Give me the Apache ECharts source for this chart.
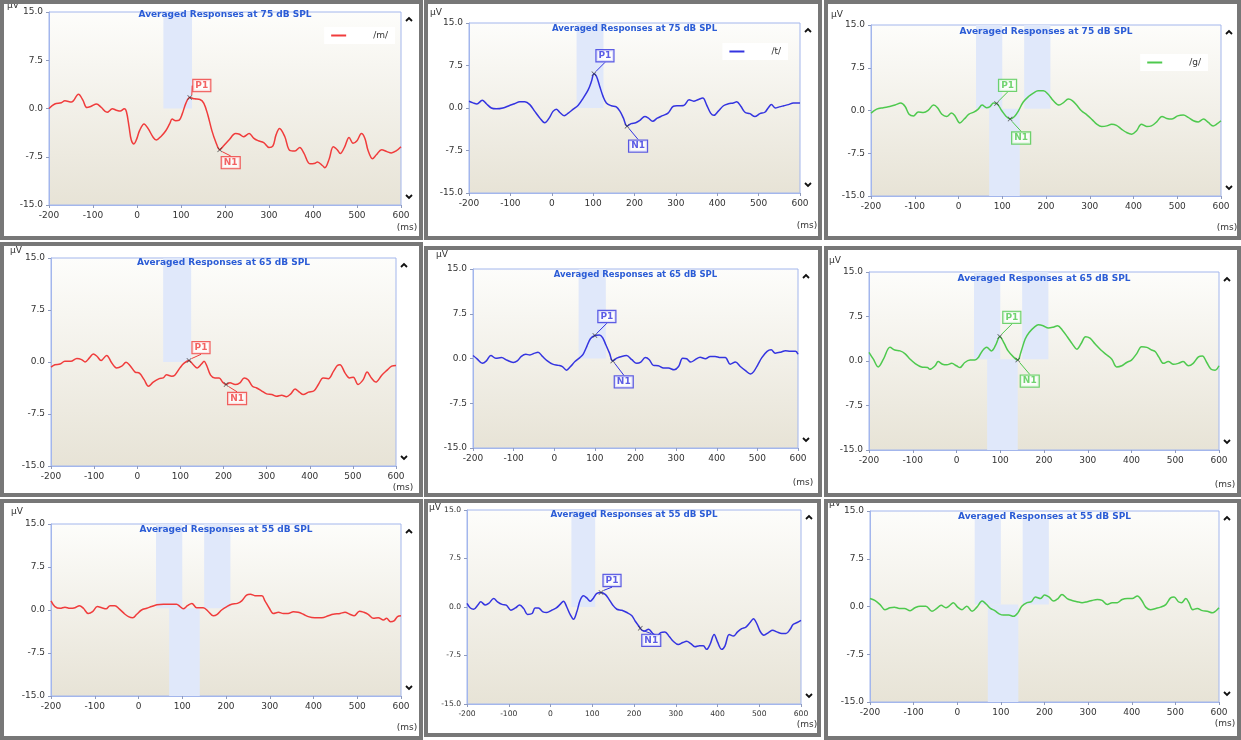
<!DOCTYPE html>
<html>
<head>
<meta charset="utf-8">
<script src="https://cdn.jsdelivr.net/npm/echarts@6/dist/echarts.min.js"></script>
<style>
  html, body { margin: 0; padding: 0; background: #ffffff; }
  #chart { width: 1241px; height: 740px; }
</style>
</head>
<body>
<div id="chart"></div>
<script>
// ---- axis ticks ----
const timeTicks = [-200, -100, 0, 100, 200, 300, 400, 500, 600];   // ms
const voltTicks = [-15, -7.5, 0, 7.5, 15];                          // µV
const levels = ['75', '65', '55'];                                  // dB SPL, one per row
const stimuli = ['/m/', '/t/', '/g/'];                              // one per column

// ---- averaged waveforms [ms, µV] ----
const mTrace75 = [[-200,0.0],[-187,0.7],[-172,0.9],[-164,1.2],[-149,1.0],[-133,2.2],[-123,1.3],[-114,0.15],[-104,0.35],[-92,0.7],[-81,0.15],[-68,-0.6],[-56,-0.05],[-47,-0.26],[-38,-0.4],[-29,-0.05],[-24,-0.5],[-18,-2.85],[-13,-4.9],[-7,-5.5],[-1,-4.8],[6,-3.4],[16,-2.4],[25,-3.1],[37,-4.5],[44,-4.9],[55,-4.3],[65,-3.5],[74,-2.4],[80,-1.65],[88,-1.9],[96,-1.8],[103,-0.8],[111,0.8],[120,1.7],[131,1.5],[143,1.4],[152,0.8],[161,-1.0],[170,-3.4],[179,-5.2],[188,-6.4],[197,-5.8],[209,-4.9],[224,-3.9],[233,-4.0],[242,-4.4],[255,-3.9],[265,-4.6],[275,-5.0],[288,-5.3],[300,-6.05],[309,-5.8],[316,-4.1],[324,-3.1],[336,-4.4],[347,-6.5],[359,-6.6],[370,-6.05],[379,-6.9],[393,-8.6],[405,-8.5],[410,-8.3],[422,-8.9],[427,-9.2],[437,-7.8],[446,-5.95],[455,-6.4],[462,-7.0],[472,-5.95],[482,-4.5],[491,-5.4],[500,-5.0],[510,-3.9],[518,-4.65],[525,-6.5],[535,-7.8],[544,-7.2],[556,-6.4],[568,-6.7],[578,-6.9],[589,-6.6],[600,-5.95]];
const tTrace75 = [[-200,1.2],[-190,0.9],[-181,0.7],[-168,1.35],[-158,0.75],[-146,0.0],[-134,-0.15],[-118,0.0],[-102,0.45],[-90,0.75],[-77,1.1],[-65,1.1],[-53,0.6],[-41,-0.6],[-29,-1.75],[-17,-2.6],[-6,-1.75],[3,-0.6],[11,-0.2],[19,-0.75],[30,-1.35],[40,-0.9],[52,-0.2],[64,0.5],[76,1.75],[88,3.2],[96,4.7],[102,6.05],[108,5.6],[116,3.8],[124,2.05],[132,0.9],[144,0.4],[156,0.2],[165,-0.6],[173,-1.75],[182,-3.2],[192,-2.75],[203,-2.6],[213,-2.2],[225,-1.5],[233,-1.75],[244,-2.35],[255,-1.8],[268,-1.35],[281,-0.9],[294,0.3],[306,0.4],[319,0.45],[332,1.45],[343,1.2],[353,1.45],[365,1.75],[374,0.6],[384,-0.9],[392,-1.3],[402,-0.6],[415,0.4],[427,0.75],[439,0.9],[447,1.1],[457,0.3],[467,-0.75],[479,-1.0],[491,-1.5],[503,-1.0],[515,-0.75],[523,0.0],[531,0.6],[540,0.0],[550,0.2],[561,0.4],[572,0.6],[584,0.9],[600,0.9]];
const gTrace75 = [[-200,-0.45],[-187,0.25],[-172,0.5],[-157,0.7],[-145,0.95],[-132,1.3],[-122,0.7],[-113,-0.65],[-103,-0.95],[-92,-0.25],[-80,-0.35],[-69,0.05],[-57,0.95],[-48,0.5],[-38,-0.65],[-27,-1.05],[-16,-0.45],[-8,-0.95],[3,-2.2],[13,-1.5],[24,-0.65],[36,-0.25],[45,0.25],[54,0.95],[64,0.5],[72,0.7],[80,1.3],[87,1.25],[99,-0.05],[109,-1.05],[118,-1.5],[128,-1.05],[137,-0.05],[148,1.5],[160,2.45],[171,3.05],[182,3.45],[194,3.45],[205,2.85],[217,1.7],[230,0.95],[240,1.4],[251,2.0],[260,1.75],[270,0.95],[281,-0.05],[294,-0.8],[306,-1.65],[316,-2.4],[327,-2.8],[339,-2.7],[350,-2.4],[361,-2.6],[373,-3.3],[384,-3.85],[396,-4.15],[407,-3.55],[418,-2.4],[430,-2.8],[441,-2.7],[453,-2.0],[465,-1.05],[476,-1.4],[488,-1.5],[501,-0.95],[514,-0.8],[525,-1.2],[537,-1.8],[548,-2.0],[560,-1.5],[571,-2.1],[582,-2.7],[590,-2.4],[600,-1.8]];
const mTrace65 = [[-200,-0.75],[-191,-0.4],[-179,-0.3],[-168,0.1],[-154,0.1],[-140,0.5],[-129,0.35],[-121,0.0],[-111,0.6],[-102,1.15],[-93,0.8],[-84,0.2],[-71,0.95],[-59,-0.15],[-48,-0.85],[-36,-0.6],[-26,-0.05],[-17,-0.5],[-5,-1.45],[5,-1.6],[16,-2.55],[26,-3.5],[37,-2.9],[51,-2.4],[60,-2.3],[68,-1.85],[80,-2.05],[87,-1.9],[99,-0.85],[108,-0.2],[120,0.2],[130,-0.4],[139,-0.85],[149,-0.3],[155,0.1],[161,-0.5],[170,-1.9],[180,-2.3],[190,-2.3],[198,-2.9],[206,-3.25],[215,-3.0],[227,-3.25],[238,-3.0],[248,-2.3],[257,-2.55],[267,-3.5],[277,-3.75],[288,-4.15],[300,-4.6],[312,-4.7],[323,-4.95],[335,-4.8],[346,-5.0],[356,-4.6],[366,-3.9],[376,-4.35],[385,-4.7],[397,-4.35],[410,-4.15],[420,-3.25],[431,-2.3],[443,-2.4],[455,-1.35],[464,-0.5],[470,-0.4],[482,-1.6],[492,-2.3],[501,-2.2],[512,-3.25],[524,-2.55],[533,-1.45],[543,-2.3],[553,-2.9],[567,-1.9],[578,-1.25],[590,-0.6],[600,-0.5]];
const tTrace65 = [[-200,0.5],[-190,-0.05],[-177,-0.8],[-167,-0.4],[-156,0.5],[-144,0.05],[-130,0.15],[-116,-0.3],[-101,-0.65],[-91,-0.4],[-81,0.35],[-70,0.7],[-60,0.6],[-48,0.9],[-40,1.05],[-29,0.35],[-17,-0.4],[-4,-0.95],[10,-1.15],[20,-1.35],[30,-1.95],[40,-1.35],[51,-0.5],[63,0.15],[71,0.7],[80,2.0],[89,3.3],[100,3.85],[111,3.95],[119,3.5],[127,2.3],[136,0.9],[144,-0.4],[154,0.05],[166,0.35],[178,0.5],[191,-0.2],[203,-0.8],[213,-0.6],[224,0.15],[234,-0.2],[244,-1.15],[256,-1.2],[269,-1.6],[281,-1.6],[295,-1.9],[306,-1.35],[316,0.05],[326,-0.05],[336,-0.6],[347,-0.2],[359,0.2],[372,-0.05],[384,0.35],[396,0.35],[409,0.15],[421,0.15],[433,-0.95],[446,-0.6],[458,-1.35],[470,-2.0],[483,-2.6],[491,-2.2],[501,-1.05],[511,0.15],[524,1.2],[534,1.45],[544,0.9],[557,1.05],[569,1.3],[581,1.2],[594,1.2],[600,0.7]];
const gTrace65 = [[-200,1.45],[-190,0.3],[-179,-1.0],[-167,0.3],[-152,2.3],[-141,1.85],[-129,1.7],[-118,1.25],[-106,0.3],[-95,-0.4],[-80,-1.0],[-66,-1.1],[-61,-1.4],[-49,-0.8],[-42,-0.1],[-32,-0.55],[-22,-0.65],[-11,-0.4],[0,-0.8],[8,-1.1],[19,-0.25],[31,0.15],[42,0.15],[50,0.6],[59,1.7],[69,2.3],[80,1.7],[90,2.75],[99,4.15],[109,2.95],[118,1.7],[130,0.7],[140,0.15],[147,1.45],[157,3.7],[166,4.8],[178,5.7],[187,6.1],[198,5.95],[210,5.55],[221,5.7],[231,5.95],[242,5.2],[254,4.0],[265,2.85],[275,2.0],[285,2.95],[295,4.1],[305,3.85],[317,2.85],[330,1.85],[343,1.05],[355,0.3],[366,-1.0],[378,-0.8],[389,-0.25],[400,0.15],[412,1.25],[423,2.4],[435,2.3],[446,1.85],[454,1.6],[463,0.6],[473,-0.4],[484,-0.1],[496,-0.55],[507,-0.4],[518,-0.1],[530,-0.8],[541,-0.4],[553,0.7],[562,0.85],[572,-0.25],[582,-1.4],[591,-1.55],[600,-0.8]];
const mTrace55 = [[-200,1.6],[-191,0.6],[-179,0.3],[-168,0.5],[-157,0.3],[-145,0.4],[-135,0.75],[-126,0.3],[-115,-0.6],[-105,-0.3],[-94,0.6],[-84,0.4],[-74,0.2],[-65,0.75],[-54,0.75],[-44,0.2],[-33,-0.6],[-23,-1.15],[-13,-1.35],[-4,-0.75],[7,0.0],[19,0.3],[30,0.6],[42,0.9],[57,1.0],[72,1.0],[87,1.0],[95,0.6],[102,0.2],[112,0.75],[122,1.15],[133,0.4],[148,0.4],[160,-0.3],[171,-1.0],[180,-0.75],[190,0.0],[202,0.6],[213,1.0],[226,1.15],[236,1.6],[247,2.6],[256,2.75],[266,2.5],[282,2.5],[289,1.6],[299,0.3],[308,-0.6],[320,-0.4],[331,-0.6],[342,-0.6],[354,-0.3],[365,-0.4],[377,-0.75],[388,-1.15],[403,-1.35],[419,-1.35],[434,-1.0],[445,-0.75],[461,-0.6],[472,-0.4],[483,-0.75],[493,-1.0],[505,-0.2],[515,-0.4],[525,-0.75],[537,-1.45],[548,-1.35],[560,-1.75],[567,-1.45],[576,-2.05],[584,-1.9],[592,-1.15],[600,-1.0]];
const tTrace55 = [[-200,0.55],[-192,-0.15],[-184,-0.35],[-174,0.3],[-167,0.8],[-156,0.3],[-148,0.55],[-136,1.3],[-127,0.8],[-116,0.4],[-106,0.3],[-95,-0.5],[-84,-0.15],[-74,0.3],[-64,-0.25],[-55,-1.15],[-44,-1.0],[-37,-0.15],[-29,-0.15],[-18,-0.75],[-9,-0.85],[3,-0.5],[14,-0.15],[23,0.4],[31,0.9],[39,0.0],[47,-1.15],[55,-1.9],[63,-0.75],[71,1.05],[79,1.75],[87,1.4],[95,0.9],[103,1.4],[111,2.1],[121,2.25],[131,1.95],[139,1.3],[149,0.3],[159,-0.35],[171,-0.5],[183,-0.85],[195,-1.35],[203,-2.2],[211,-2.9],[215,-3.3],[219,-3.6],[224,-3.75],[235,-3.45],[245,-4.1],[255,-4.5],[264,-3.95],[274,-3.85],[285,-4.6],[294,-5.3],[306,-5.8],[317,-5.5],[326,-5.3],[336,-5.65],[346,-6.15],[357,-6.0],[366,-6.0],[374,-6.55],[382,-5.8],[392,-4.25],[400,-5.4],[410,-6.55],[418,-6.0],[428,-4.25],[438,-4.5],[448,-3.85],[458,-3.35],[468,-3.1],[478,-2.4],[486,-1.8],[494,-2.55],[502,-3.75],[511,-4.35],[522,-3.95],[532,-3.6],[542,-3.85],[554,-4.1],[564,-4.1],[574,-3.45],[581,-2.7],[591,-2.4],[600,-2.05]];
const gTrace55 = [[-200,1.25],[-189,0.95],[-177,0.3],[-166,-0.5],[-154,-0.2],[-144,-0.1],[-133,-0.3],[-121,-0.3],[-108,-0.65],[-97,-0.2],[-85,0.05],[-72,0.05],[-58,-0.75],[-47,-0.3],[-37,0.2],[-26,-0.2],[-19,0.05],[-9,0.6],[1,-0.1],[11,-0.5],[22,0.05],[34,-0.75],[45,-0.1],[57,0.85],[66,0.4],[76,-0.3],[86,-0.65],[96,-1.15],[106,-1.35],[118,-1.35],[129,-1.55],[139,-1.0],[148,0.05],[160,0.6],[170,0.75],[179,1.5],[191,1.25],[200,1.8],[210,1.5],[221,0.85],[231,1.25],[240,1.9],[252,1.25],[263,0.95],[275,0.75],[286,0.6],[298,0.75],[309,0.95],[321,1.1],[332,0.95],[344,0.3],[355,0.6],[367,0.6],[378,1.1],[390,1.25],[401,1.25],[413,1.65],[423,0.95],[432,-0.1],[443,-0.5],[455,-0.3],[466,-0.1],[478,0.3],[489,1.35],[497,1.5],[507,0.75],[514,0.6],[524,1.25],[531,0.6],[540,-0.5],[550,-0.3],[562,-0.65],[573,-0.75],[585,-1.0],[592,-0.75],[600,-0.2]];

// ---- picked peaks [label, ms, µV] ----
const mPeaks75 = [['P1', 120, 1.7], ['N1', 188, -6.4]];
const tPeaks75 = [['P1', 102, 6.05], ['N1', 182, -3.2]];
const gPeaks75 = [['P1', 87, 1.25], ['N1', 118, -1.5]];
const mPeaks65 = [['P1', 120, 0.2], ['N1', 206, -3.25]];
const tPeaks65 = [['P1', 100, 3.85], ['N1', 144, -0.4]];
const gPeaks65 = [['P1', 99, 4.15], ['N1', 140, 0.15]];
const mPeaks55 = [];
const tPeaks55 = [['P1', 121, 2.25], ['N1', 215, -3.3]];
const gPeaks55 = [];

// ---- latency search windows [from ms, to ms, low µV, high µV] ----
const mWindows75 = [[60, 125, 0, 15]];
const tWindows75 = [[60, 125, 0, 15]];
const gWindows75 = [[40, 100, 0.3, 15], [150, 210, 0.3, 15], [70, 140, -15, 0.3]];
const mWindows65 = [[60, 125, 0, 15]];
const tWindows65 = [[60, 127, 0, 15]];
const gWindows65 = [[40, 100, 0.3, 15], [150, 210, 0.3, 15], [70, 140, -15, 0.3]];
const mWindows55 = [[40, 100, 0.3, 15], [150, 210, 0.3, 15], [70, 140, -15, 0.3]];
const tWindows55 = [[50, 107, 0, 15]];
const gWindows55 = [[40, 100, 0.3, 13.8], [150, 210, 0.3, 13.8], [70, 140, -15, 0.3]];

const traces  = [mTrace75, tTrace75, gTrace75, mTrace65, tTrace65, gTrace65, mTrace55, tTrace55, gTrace55];
const peaks   = [mPeaks75, tPeaks75, gPeaks75, mPeaks65, tPeaks65, gPeaks65, mPeaks55, tPeaks55, gPeaks55];
const windows = [mWindows75, tWindows75, gWindows75, mWindows65, tWindows65, gWindows65, mWindows55, tWindows55, gWindows55];

// ---- page layout (pixels) ----
const gridBoxes  = [[49,12,401,205],[469,23,800,193],[871,25,1221,196],
                    [51,258,396,466],[473,269,798,448],[869,272,1219,450],
                    [51,524,401,696],[467,510,801,704],[870,511,1219,702]];
const frameBoxes = [[0,0,423,240],[424,0,822,240],[824,0,1241,240],
                    [0,242,423,497],[424,246,822,497],[824,246,1241,497],
                    [0,499,423,740],[424,499,821,737],[824,499,1241,740]];
const unitSpots  = [[13,6],[436,13],[837,15],[16,251],[442,255],[835,261],[17,512],[435,508],[835,504]];
const msSpots    = [[407,228],[807,226],[1227,228],[403,488],[803,483],[1225,485],[407,728],[807,725],[1225,724]];
const titleMidY  = [16,30,33,264,276,280,531,516,518];
const titleSizes = [9,8.6,9,9,8.5,9,9,8.7,9];
const tickSizes  = [9,9,9,9,9,9,9,7.6,9];
const peakShift  = [[[12,-12],[11,13]], [[11,-18],[11,20]], [[11,-18],[11,19]],
                    [[12,-13],[11,14]], [[12,-19],[11,21]], [[12,-19],[12,21]],
                    [], [[11,-12],[11,12]], []];
const legendSpots = [{right: 846, top: 27}, {right: 453, top: 43}, {right: 33, top: 54}];

const lineColors = ['#f03c3c', '#3434e0', '#4ec94e'];
const FONT = 'DejaVu Sans, Verdana, sans-serif';
const CROSS = 'path://M0,1L1,0L5,4L9,0L10,1L6,5L10,9L9,10L5,6L1,10L0,9L4,5Z';

const grids = [], xAxes = [], yAxes = [], titles = [], series = [], graphics = [], legends = [];

traces.forEach((trace, i) => {
  const col = i % 3, row = Math.floor(i / 3);
  const [l, t, r, b] = gridBoxes[i];
  const color = lineColors[col];

  grids.push({
    left: l, top: t, width: r - l, height: b - t,
    show: true, borderColor: '#a3b6ec', borderWidth: 1,
    backgroundColor: new echarts.graphic.LinearGradient(0, 0, 0, 1, [
      { offset: 0, color: '#fdfdfb' }, { offset: 1, color: '#e7e3d6' }
    ])
  });

  xAxes.push({
    type: 'value', gridIndex: i,
    min: timeTicks[0], max: timeTicks[timeTicks.length - 1], interval: 100,
    axisLine: { show: true, onZero: false, lineStyle: { color: '#a3b6ec' } },
    axisTick: { show: true, length: 3, lineStyle: { color: '#8f9bbd' } },
    axisLabel: { fontSize: tickSizes[i], color: '#333', margin: 6, fontFamily: FONT },
    splitLine: { show: false }
  });

  yAxes.push({
    type: 'value', gridIndex: i,
    min: voltTicks[0], max: voltTicks[voltTicks.length - 1], interval: 7.5,
    axisLine: { show: true, onZero: false, lineStyle: { color: '#a3b6ec' } },
    axisTick: { show: true, length: 3, lineStyle: { color: '#8f9bbd' } },
    axisLabel: { fontSize: tickSizes[i], color: '#333', margin: 6, fontFamily: FONT,
                 formatter: v => v.toFixed(1) },
    splitLine: { show: false }
  });

  titles.push({
    text: 'Averaged Responses at ' + levels[row] + ' dB SPL',
    left: (l + r) / 2, textAlign: 'center',
    top: titleMidY[i] - 6, padding: 0,
    textStyle: { fontSize: titleSizes[i], fontWeight: 'bold', color: '#2b5cd6', fontFamily: FONT }
  });

  const seriesName = row === 0 ? stimuli[col] : stimuli[col] + ' ' + levels[row];
  series.push({
    type: 'line', name: seriesName, xAxisIndex: i, yAxisIndex: i,
    data: trace, smooth: 0.35, showSymbol: false, symbol: 'none',
    lineStyle: { color: color, width: 1.5 }, itemStyle: { color: color },
    z: 3, silent: true,
    markArea: {
      silent: true,
      itemStyle: { color: '#e0e8fa' },
      data: windows[i].map(w => [{ xAxis: w[0], yAxis: w[2] }, { xAxis: w[1], yAxis: w[3] }])
    }
  });

  if (peaks[i].length) {
    const shift = peakShift[i];
    series.push({
      type: 'scatter', name: 'peaks ' + i, xAxisIndex: i, yAxisIndex: i,
      data: peaks[i].map(p => ({ name: p[0], value: [p[1], p[2]] })),
      symbol: CROSS, symbolSize: 5, itemStyle: { color: '#333' }, z: 4, silent: true,
      label: {
        show: true, position: 'inside', formatter: '{b}',
        color: color, fontSize: 9, fontWeight: 'bold', fontFamily: FONT,
        backgroundColor: '#ffffff', borderColor: color, borderWidth: 1.2,
        padding: [1, 2, 0, 2], lineHeight: 10
      },
      labelLayout: p => ({ dx: shift[p.dataIndex][0], dy: shift[p.dataIndex][1] }),
      labelLine: { show: true, lineStyle: { color: color, width: 1 } }
    });
  }

  if (row === 0) {
    legends.push(Object.assign({
      data: [stimuli[col]], orient: 'horizontal',
      backgroundColor: '#ffffff', padding: [4, 7], itemWidth: 15, itemHeight: 2,
      icon: 'rect', selectedMode: false,
      textStyle: { fontSize: 9, color: '#333', fontFamily: FONT, padding: [0, 0, 0, 22] }
    }, legendSpots[col]));
  }

  // panel frame
  const [fx0, fy0, fx1, fy1] = frameBoxes[i];
  graphics.push({
    type: 'rect', silent: true, z: 10,
    shape: { x: fx0 + 2, y: fy0 + 2, width: fx1 - fx0 - 4, height: fy1 - fy0 - 4 },
    style: { fill: null, stroke: '#777777', lineWidth: 4 }
  });
  // unit captions
  graphics.push({
    type: 'text', silent: true, x: unitSpots[i][0], y: unitSpots[i][1],
    style: { text: 'µV', fill: '#333', font: '9px ' + FONT, align: 'center', verticalAlign: 'middle' }
  });
  graphics.push({
    type: 'text', silent: true, x: msSpots[i][0], y: msSpots[i][1],
    style: { text: '(ms)', fill: '#333', font: '9px ' + FONT, align: 'center', verticalAlign: 'middle' }
  });
  // scroll chevrons at the right edge of the plot
  const cx = r + 8;
  graphics.push({
    type: 'polyline', silent: true,
    shape: { points: [[cx - 3, t + 9], [cx, t + 6], [cx + 3, t + 9]] },
    style: { stroke: '#111', lineWidth: 1.8, fill: null }
  });
  graphics.push({
    type: 'polyline', silent: true,
    shape: { points: [[cx - 3, b - 10], [cx, b - 7], [cx + 3, b - 10]] },
    style: { stroke: '#111', lineWidth: 1.8, fill: null }
  });
});

const chart = echarts.init(document.getElementById('chart'), null, { renderer: 'canvas' });
chart.setOption({
  backgroundColor: '#ffffff',
  animation: false,
  title: titles,
  legend: legends,
  grid: grids,
  xAxis: xAxes,
  yAxis: yAxes,
  series: series,
  graphic: graphics
});
</script>
</body>
</html>
